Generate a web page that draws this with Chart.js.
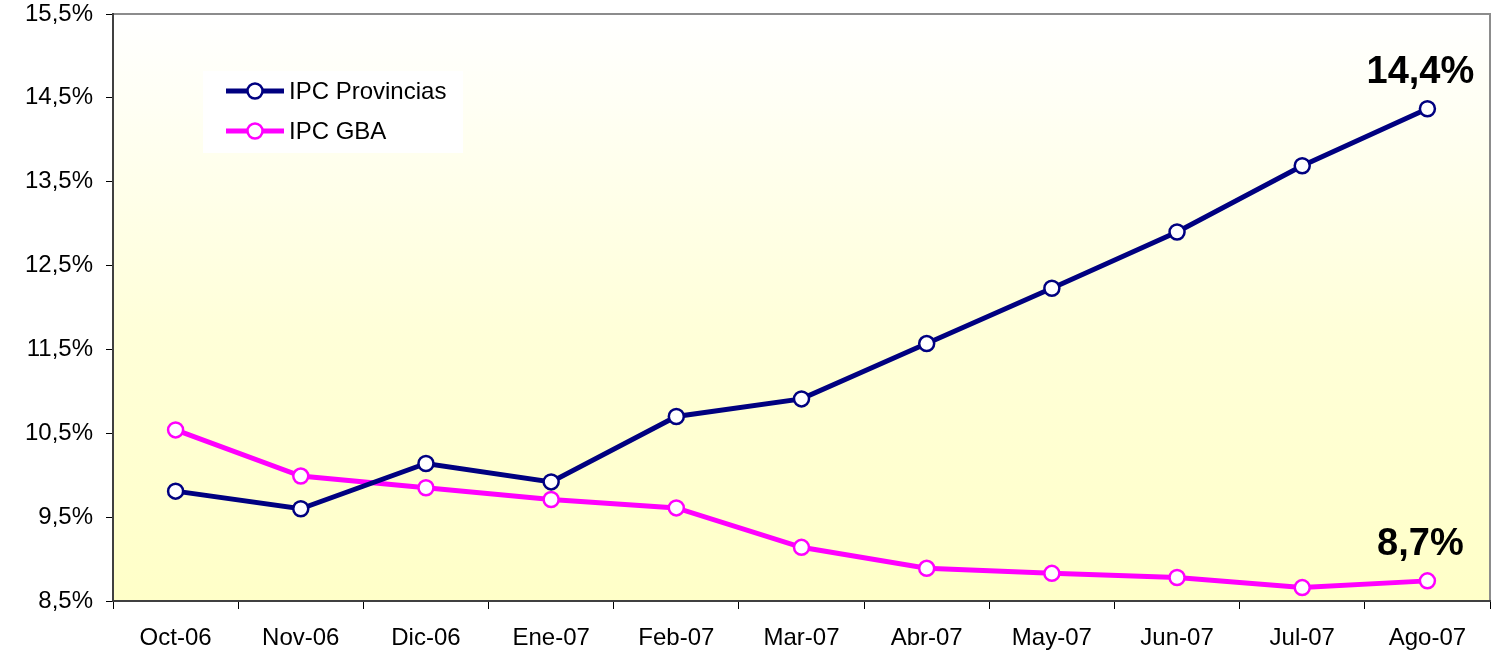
<!DOCTYPE html>
<html lang="es">
<head>
  <meta charset="UTF-8" />
  <title>IPC Provincias vs IPC GBA</title>
  <script src="https://cdn.jsdelivr.net/npm/chart.js"></script>
  <style>
    html, body { margin: 0; padding: 0; background: #fff; }
    #wrap { width: 1495px; height: 657px; }
  </style>
</head>
<body>
  <div id="wrap"><canvas id="ipcChart" width="1495" height="657"></canvas></div>

  <script>
    // datos
    const months = ['Oct-06', 'Nov-06', 'Dic-06', 'Ene-07', 'Feb-07', 'Mar-07', 'Abr-07', 'May-07', 'Jun-07', 'Jul-07', 'Ago-07'];
    const ipcProvincias = [9.81, 9.60, 10.14, 9.92, 10.70, 10.91, 11.57, 12.23, 12.90, 13.69, 14.37];
    const ipcGBA = [10.54, 9.99, 9.85, 9.71, 9.61, 9.14, 8.89, 8.83, 8.78, 8.66, 8.74];
    const yTicks = [8.5, 9.5, 10.5, 11.5, 12.5, 13.5, 14.5, 15.5];
    const endLabels = ['14,4%', '8,7%'];

    const NAVY = '#000080';
    const MAGENTA = '#FF00FF';
    const FONT = 'Arial, "Liberation Sans", sans-serif';

    const fmt = v => v.toFixed(1).replace('.', ',') + '%';

    // fondo degradado + borde superior/derecho
    const plotBg = {
      id: 'plotBg',
      beforeDraw(chart) {
        const { ctx, chartArea: a } = chart;
        const g = ctx.createLinearGradient(0, a.top, 0, a.bottom);
        g.addColorStop(0, '#FFFFFF');
        g.addColorStop(0.55, '#FFFFD8');
        g.addColorStop(1, '#FFFFC8');
        ctx.save();
        ctx.fillStyle = g;
        ctx.fillRect(a.left, a.top, a.right - a.left, a.bottom - a.top);
        ctx.strokeStyle = '#8c8c8c';
        ctx.lineWidth = 2;
        ctx.beginPath();
        ctx.moveTo(a.left, a.top);
        ctx.lineTo(a.right, a.top);
        ctx.lineTo(a.right, a.bottom);
        ctx.stroke();
        ctx.restore();
      }
    };

    // leyenda dentro del area del grafico
    const innerLegend = {
      id: 'innerLegend',
      afterDatasetsDraw(chart) {
        const { ctx } = chart;
        ctx.save();
        ctx.fillStyle = '#FFFFFF';
        ctx.fillRect(203, 71, 260, 82);
        chart.data.datasets.forEach((ds, i) => {
          const y = 91 + i * 40;
          ctx.strokeStyle = ds.borderColor;
          ctx.lineWidth = 5;
          ctx.beginPath();
          ctx.moveTo(226, y);
          ctx.lineTo(284, y);
          ctx.stroke();
          ctx.beginPath();
          ctx.arc(255, y, 7.5, 0, Math.PI * 2);
          ctx.fillStyle = '#FFFFFF';
          ctx.fill();
          ctx.lineWidth = 2.5;
          ctx.stroke();
          ctx.fillStyle = '#000';
          ctx.font = '24px ' + FONT;
          ctx.textBaseline = 'middle';
          ctx.fillText(ds.label, 289, y + 1);
        });
        ctx.restore();
      }
    };

    // etiquetas del ultimo valor
    const lastValue = {
      id: 'lastValue',
      afterDatasetsDraw(chart) {
        const { ctx } = chart;
        ctx.save();
        ctx.font = 'bold 38px ' + FONT;
        ctx.fillStyle = '#000';
        ctx.textAlign = 'center';
        ctx.textBaseline = 'alphabetic';
        chart.data.datasets.forEach((ds, i) => {
          const pts = chart.getDatasetMeta(i).data;
          const p = pts[pts.length - 1];
          ctx.fillText(endLabels[i], p.x - 7, p.y - 26);
        });
        ctx.restore();
      }
    };

    const ctx = document.getElementById('ipcChart').getContext('2d');
    new Chart(ctx, {
      type: 'line',
      data: {
        labels: months,
        datasets: [
          {
            label: 'IPC Provincias',
            data: ipcProvincias,
            borderColor: NAVY,
            borderWidth: 5,
            pointRadius: 7.5,
            pointBorderWidth: 2.5,
            pointBackgroundColor: '#FFFFFF',
            pointBorderColor: NAVY,
            tension: 0
          },
          {
            label: 'IPC GBA',
            data: ipcGBA,
            borderColor: MAGENTA,
            borderWidth: 5,
            pointRadius: 7.5,
            pointBorderWidth: 2.5,
            pointBackgroundColor: '#FFFFFF',
            pointBorderColor: MAGENTA,
            tension: 0
          }
        ]
      },
      options: {
        responsive: false,
        animation: false,
        layout: { autoPadding: false, padding: { top: 14, right: 5, left: 0, bottom: 0 } },
        plugins: {
          legend: { display: false },
          title: { display: false },
          tooltip: { enabled: false }
        },
        scales: {
          x: {
            offset: true,
            grid: { offset: true, drawOnChartArea: false, tickLength: 8, color: '#000', tickWidth: 1 },
            border: { color: '#404040', width: 2 },
            ticks: { color: '#000', font: { family: FONT, size: 24 }, padding: 15, maxRotation: 0 },
            afterFit(scale) {
              scale.height = 56;
              scale.paddingLeft = 0;
              scale.paddingRight = 0;
            }
          },
          y: {
            min: 8.5,
            max: 15.5,
            afterBuildTicks(scale) { scale.ticks = yTicks.map(v => ({ value: v })); },
            grid: { drawOnChartArea: false, tickLength: 7, color: '#000' },
            border: { color: '#404040', width: 2 },
            ticks: { color: '#000', font: { family: FONT, size: 24 }, padding: 13, callback: v => fmt(v) },
            afterFit(scale) {
              scale.width = 113;
              scale.paddingTop = 0;
              scale.paddingBottom = 0;
            }
          }
        }
      },
      plugins: [plotBg, innerLegend, lastValue]
    });
  </script>
</body>
</html>
